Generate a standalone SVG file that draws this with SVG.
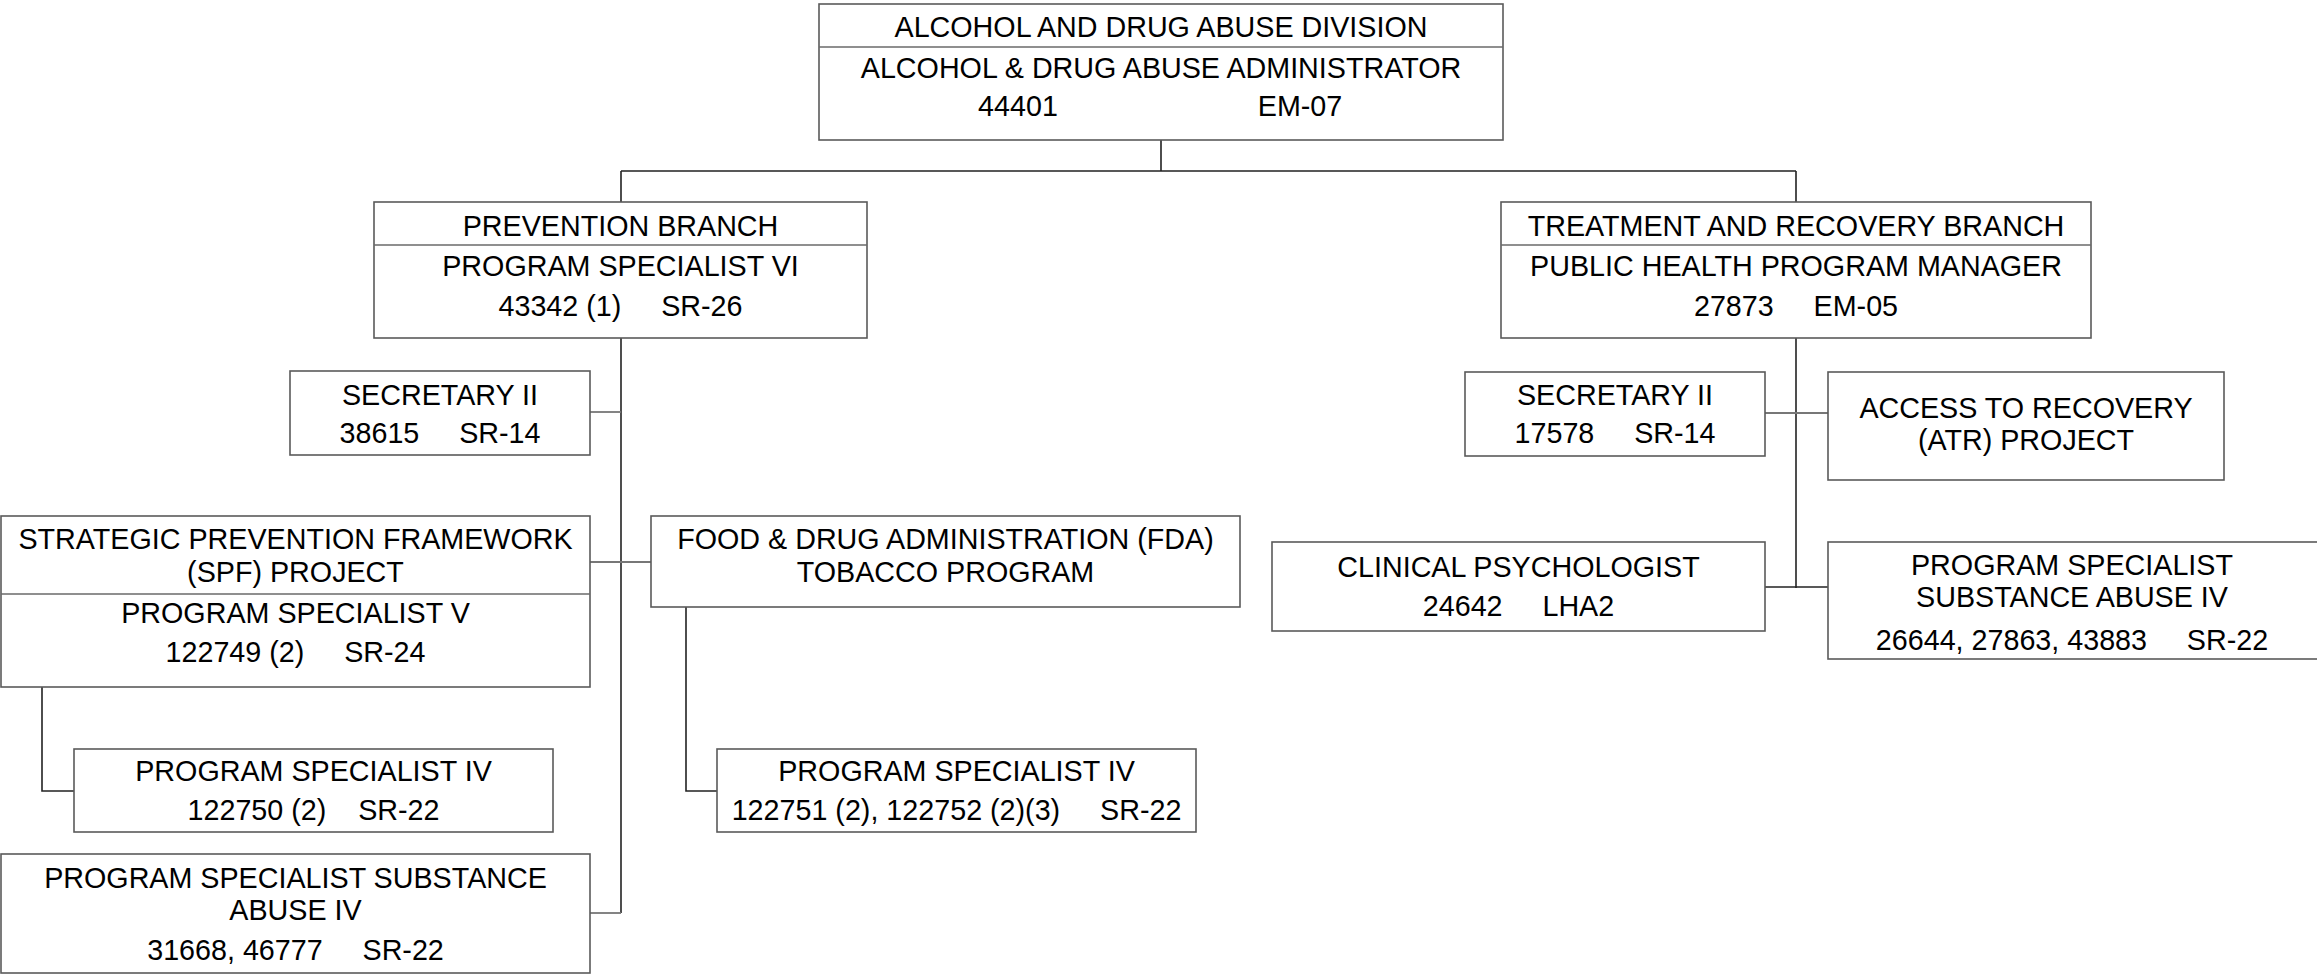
<svg xmlns="http://www.w3.org/2000/svg" width="2317" height="976" viewBox="0 0 2317 976">
<style>
  .box { fill: #ffffff; stroke: #5a5a5a; stroke-width: 1.6; }
  .div { stroke: #6a6a6a; stroke-width: 1.6; fill: none; }
  .con { stroke: #222222; stroke-width: 1.6; fill: none; }
  .cong { stroke: #777777; stroke-width: 1.8; fill: none; }
  text { font-family: "Liberation Sans", Arial, sans-serif; font-size: 28.7px; fill: #000000; text-anchor: middle; white-space: pre; }
</style>
<rect width="2317" height="976" fill="#ffffff"/>
<g id="connectors">
  <path class="con" d="M1161 140 V171 M621 171 H1796 M621 171 V202 M1796 171 V202"/>
  <path class="con" d="M621 338 V913"/>
  <path class="cong" d="M590 412 H621"/>
  <path class="cong" d="M590 562 H651"/>
  <path class="cong" d="M590 913 H621"/>
  <path class="con" d="M42 687 V791 H74"/>
  <path class="con" d="M686 607 V791 H717"/>
  <path class="con" d="M1796 338 V588"/>
  <path class="cong" d="M1765 413 H1828"/>
  <path class="con" d="M1765 587 H1828"/>
</g>
<g id="n-division">
  <rect class="box" x="819" y="4" width="684" height="136"/>
  <line class="div" x1="819" y1="47" x2="1503" y2="47"/>
  <text x="1161" y="37">ALCOHOL AND DRUG ABUSE DIVISION</text>
  <text x="1161" y="78">ALCOHOL &amp; DRUG ABUSE ADMINISTRATOR</text>
  <text y="116"><tspan x="1018">44401</tspan><tspan x="1300">EM-07</tspan></text>
</g>
<g id="n-prevention">
  <rect class="box" x="374" y="202" width="493" height="136"/>
  <line class="div" x1="374" y1="245" x2="867" y2="245"/>
  <text x="620.5" y="236">PREVENTION BRANCH</text>
  <text x="620.5" y="276">PROGRAM SPECIALIST VI</text>
  <text x="620.5" y="316">43342 (1)     SR-26</text>
</g>
<g id="n-treatment">
  <rect class="box" x="1501" y="202" width="590" height="136"/>
  <line class="div" x1="1501" y1="245" x2="2091" y2="245"/>
  <text x="1796" y="236">TREATMENT AND RECOVERY BRANCH</text>
  <text x="1796" y="276">PUBLIC HEALTH PROGRAM MANAGER</text>
  <text x="1796" y="316">27873     EM-05</text>
</g>
<g id="n-secretary-left">
  <rect class="box" x="290" y="371" width="300" height="84"/>
  <text x="440" y="405">SECRETARY II</text>
  <text x="440" y="443">38615     SR-14</text>
</g>
<g id="n-spf">
  <rect class="box" x="1" y="516" width="589" height="171"/>
  <line class="div" x1="1" y1="594" x2="590" y2="594"/>
  <text x="295.5" y="549">STRATEGIC PREVENTION FRAMEWORK</text>
  <text x="295.5" y="582">(SPF) PROJECT</text>
  <text x="295.5" y="623">PROGRAM SPECIALIST V</text>
  <text x="295.5" y="662">122749 (2)     SR-24</text>
</g>
<g id="n-fda">
  <rect class="box" x="651" y="516" width="589" height="91"/>
  <text x="945.5" y="549">FOOD &amp; DRUG ADMINISTRATION (FDA)</text>
  <text x="945.5" y="582">TOBACCO PROGRAM</text>
</g>
<g id="n-ps4-spf">
  <rect class="box" x="74" y="749" width="479" height="83"/>
  <text x="313.5" y="781">PROGRAM SPECIALIST IV</text>
  <text x="313.5" y="820">122750 (2)    SR-22</text>
</g>
<g id="n-ps4-fda">
  <rect class="box" x="717" y="749" width="479" height="83"/>
  <text x="956.5" y="781">PROGRAM SPECIALIST IV</text>
  <text x="956.5" y="820">122751 (2), 122752 (2)(3)     SR-22</text>
</g>
<g id="n-pssa-left">
  <rect class="box" x="1" y="854" width="589" height="119"/>
  <text x="295.5" y="888">PROGRAM SPECIALIST SUBSTANCE</text>
  <text x="295.5" y="920">ABUSE IV</text>
  <text x="295.5" y="960">31668, 46777     SR-22</text>
</g>
<g id="n-secretary-right">
  <rect class="box" x="1465" y="372" width="300" height="84"/>
  <text x="1615" y="405">SECRETARY II</text>
  <text x="1615" y="443">17578     SR-14</text>
</g>
<g id="n-atr">
  <rect class="box" x="1828" y="372" width="396" height="108"/>
  <text x="2026" y="418">ACCESS TO RECOVERY</text>
  <text x="2026" y="450">(ATR) PROJECT</text>
</g>
<g id="n-clinical">
  <rect class="box" x="1272" y="542" width="493" height="89"/>
  <text x="1518.5" y="577">CLINICAL PSYCHOLOGIST</text>
  <text x="1518.5" y="616">24642     LHA2</text>
</g>
<g id="n-pssa-right">
  <rect class="box" x="1828" y="542" width="495" height="117"/>
  <text x="2072" y="575">PROGRAM SPECIALIST</text>
  <text x="2072" y="607">SUBSTANCE ABUSE IV</text>
  <text x="2072" y="650">26644, 27863, 43883     SR-22</text>
</g>
</svg>
